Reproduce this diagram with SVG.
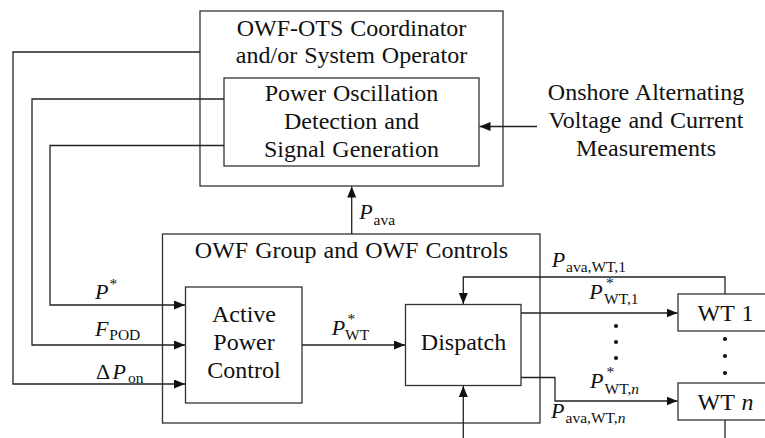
<svg xmlns="http://www.w3.org/2000/svg" width="765" height="438" viewBox="0 0 765 438">
<defs>
<style>
.box{fill:#fff;stroke:#333;stroke-width:1.3}
.ln{fill:none;stroke:#222;stroke-width:1.3}
text{font-family:"Liberation Serif","Times New Roman",serif;fill:#111}
.t{font-size:24px;text-anchor:middle;word-spacing:1px}
.m{font-size:22px;font-style:italic}
.s{font-size:15.5px;font-style:normal}
.r{font-size:22px;font-style:normal}
.dot{fill:#111}
</style>
<marker id="ar" markerUnits="userSpaceOnUse" markerWidth="12" markerHeight="10" refX="11" refY="4.5" orient="auto">
<path d="M0,0 L11,4.5 L0,9 z" fill="#111"/>
</marker>
</defs>
<rect width="765" height="438" fill="#fff"/>

<g id="coordinator">
<rect class="box" x="200" y="11" width="303" height="175"/>
<text class="t" x="351.5" y="35.5">OWF-OTS Coordinator</text>
<text class="t" x="351.5" y="62.5">and/or System Operator</text>
</g>
<g id="pod">
<rect class="box" x="224" y="78" width="255" height="88"/>
<text class="t" x="351.5" y="101">Power Oscillation</text>
<text class="t" x="351.5" y="129">Detection and</text>
<text class="t" x="351.5" y="156.5">Signal Generation</text>
</g>
<g id="measurements">
<text class="t" x="646" y="100">Onshore Alternating</text>
<text class="t" x="646" y="128">Voltage and Current</text>
<text class="t" x="646" y="155.5">Measurements</text>
</g>
<g id="owf-group">
<rect class="box" x="162.5" y="234" width="377.5" height="189"/>
<text class="t" x="351.5" y="257.5">OWF Group and OWF Controls</text>
</g>
<g id="apc">
<rect class="box" x="185.5" y="287" width="116.5" height="116"/>
<text class="t" x="244" y="322">Active</text>
<text class="t" x="244" y="350">Power</text>
<text class="t" x="244" y="377.5">Control</text>
</g>
<g id="dispatch">
<rect class="box" x="405.5" y="304.5" width="115.5" height="81"/>
<text class="t" x="463.5" y="350">Dispatch</text>
</g>
<g id="wt1">
<rect class="box" x="678" y="294" width="94" height="37"/>
<text class="t" x="725.5" y="321">WT 1</text>
</g>
<g id="wtn">
<rect class="box" x="678" y="383" width="94" height="37"/>
<text class="t" x="725.5" y="409.5">WT <tspan font-style="italic">n</tspan></text>
</g>

<g id="connectors">
<path class="ln" d="M200,52 H13 V384 H185" marker-end="url(#ar)"/>
<path class="ln" d="M224,99 H32 V345 H185" marker-end="url(#ar)"/>
<path class="ln" d="M224,145.5 H50 V305 H185" marker-end="url(#ar)"/>
<path class="ln" d="M537,126.5 H479.5" marker-end="url(#ar)"/>
<path class="ln" d="M351.7,234 V186.5" marker-end="url(#ar)"/>
<path class="ln" d="M302,345 H405" marker-end="url(#ar)"/>
<path class="ln" d="M725,294 V277 H463.3 V304" marker-end="url(#ar)"/>
<path class="ln" d="M521,313 H677.5" marker-end="url(#ar)"/>
<path class="ln" d="M521,377.5 H555 V401 H677.5" marker-end="url(#ar)"/>
<path class="ln" d="M463.3,438 V386" marker-end="url(#ar)"/>
<path class="ln" d="M725,420 V438"/>
<circle class="dot" cx="616" cy="326" r="2.1"/>
<circle class="dot" cx="616" cy="342" r="2.1"/>
<circle class="dot" cx="616" cy="358" r="2.1"/>
<circle class="dot" cx="725" cy="339" r="2.1"/>
<circle class="dot" cx="725" cy="356" r="2.1"/>
<circle class="dot" cx="725" cy="373" r="2.1"/>
</g>

<g id="labels">
<text class="m" x="359.3" y="218.5">P<tspan class="s" x="373.5" y="225">ava</tspan></text>
<text class="m" x="95" y="298.5">P<tspan class="s" x="109.5" y="289">*</tspan></text>
<text class="m" x="95" y="335.5">F<tspan class="s" x="109.3" y="340">POD</tspan></text>
<text class="r" x="96" y="378.5">Δ<tspan class="m" x="112.5" y="378.5">P</tspan><tspan class="s" x="128" y="383">on</tspan></text>
<text class="m" x="331.7" y="335">P<tspan class="s" x="347.5" y="324">*</tspan><tspan class="s" x="345" y="340">WT</tspan></text>
<text class="m" x="551.7" y="266.7">P<tspan class="s" x="566" y="271.5">ava,WT,1</tspan></text>
<text class="m" x="589.3" y="298.5">P<tspan class="s" x="606" y="287.5">*</tspan><tspan class="s" x="604" y="304">WT,1</tspan></text>
<text class="m" x="590" y="387.7">P<tspan class="s" x="606.5" y="377">*</tspan><tspan class="s" x="604.5" y="393.5">WT,<tspan font-style="italic">n</tspan></tspan></text>
<text class="m" x="551" y="418.3">P<tspan class="s" x="565.5" y="423">ava,WT,<tspan font-style="italic">n</tspan></tspan></text>
</g>
</svg>
